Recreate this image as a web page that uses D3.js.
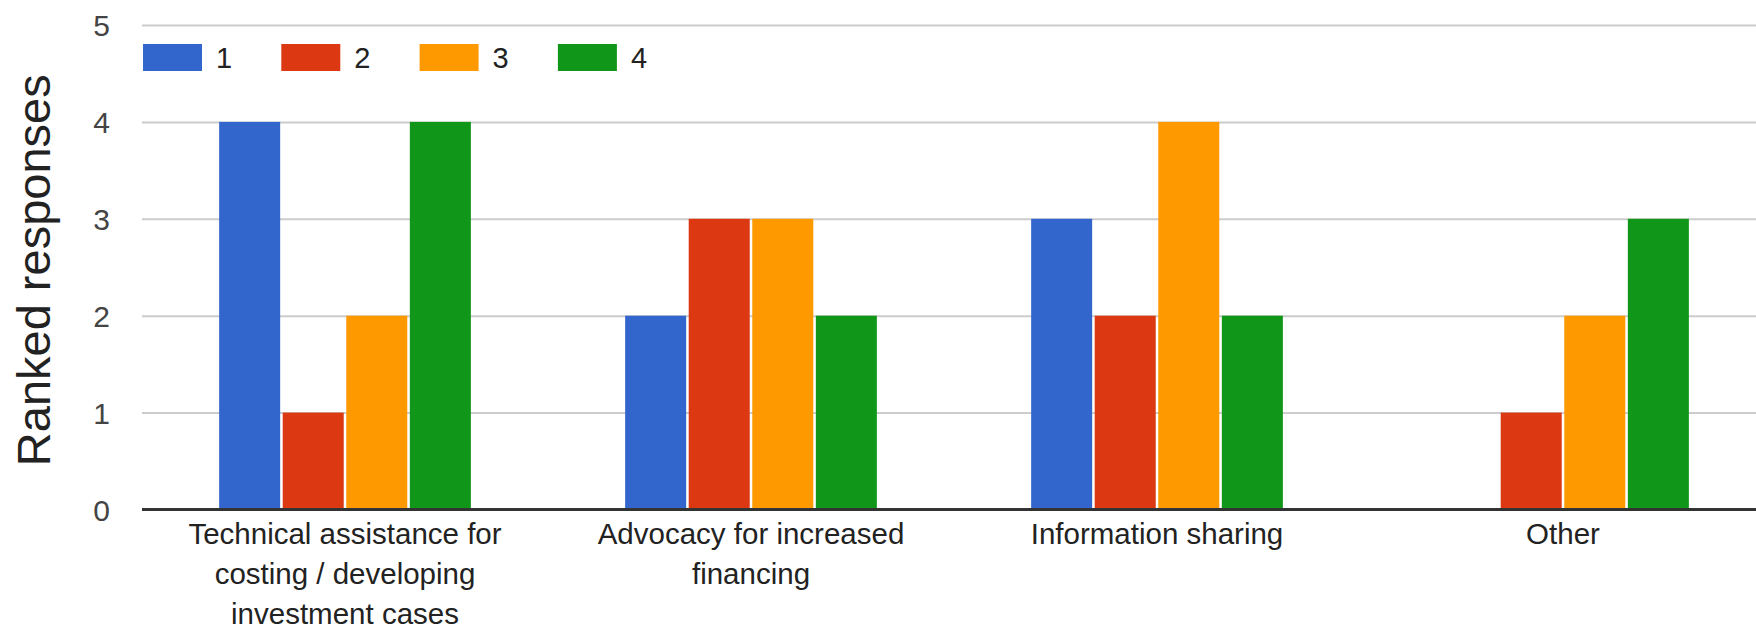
<!DOCTYPE html>
<html>
<head>
<meta charset="utf-8">
<script src="https://cdn.jsdelivr.net/npm/d3@7"></script>
<style>
  html, body { margin: 0; padding: 0; background: #fff; }
  svg { display: block; }
  text { font-family: Arial, "Liberation Sans", sans-serif; }
</style>
</head>
<body>
<svg id="chart" width="1756" height="626"></svg>
<script>
// ---- data ----
const categories = ["Technical assistance", "Advocacy", "Information sharing", "Other"];
const categoryLabelLines = [
  ["Technical assistance for", "costing / developing", "investment cases"],
  ["Advocacy for increased", "financing"],
  ["Information sharing"],
  ["Other"]
];
const seriesNames = ["1", "2", "3", "4"];
const rank1 = [4, 2, 3, 0];
const rank2 = [1, 3, 2, 1];
const rank3 = [2, 3, 4, 2];
const rank4 = [4, 2, 2, 3];
const seriesValues = [rank1, rank2, rank3, rank4];
const seriesColors = ["#3366cc", "#dc3912", "#ff9900", "#109618"];
const yTicks = [0, 1, 2, 3, 4, 5];
const yTitle = "Ranked responses";

// ---- layout ----
const plotLeft = 142, plotRight = 1766, plotTop = 25, plotBottom = 509.5;

const svg = d3.select("#chart");

const x0 = d3.scaleBand().domain(categories).range([plotLeft, plotRight])
  .paddingInner(0.38).paddingOuter(0.19);
const x1 = d3.scaleBand().domain(seriesNames).range([0, x0.bandwidth()])
  .paddingInner(0.04).paddingOuter(0);
const y = d3.scaleLinear().domain([0, 5]).range([plotBottom, plotTop]);

// gridlines + y tick labels via axis
const yAxis = d3.axisLeft(y).tickValues(yTicks).tickSize(-(plotRight - plotLeft)).tickPadding(32).tickFormat(d3.format("d"));
const gy = svg.append("g").attr("transform", `translate(${plotLeft},0)`).call(yAxis);
gy.select(".domain").remove();
gy.selectAll(".tick line").attr("stroke", "#cccccc").attr("stroke-width", 2);
gy.selectAll(".tick text")
  .attr("dy", "0.36em")
  .attr("text-anchor", "end")
  .attr("fill", "#444")
  .style("font-size", "30px");

// bars
const groups = svg.append("g").selectAll("g.grp")
  .data(categories)
  .join("g").attr("class", "grp")
  .attr("transform", d => `translate(${x0(d)},0)`);

groups.selectAll("rect")
  .data((c, ci) => seriesNames.map((s, si) => ({ s, v: seriesValues[si][ci], color: seriesColors[si] })))
  .join("rect")
  .filter(d => d.v > 0)
  .attr("x", d => x1(d.s))
  .attr("y", d => y(d.v))
  .attr("width", x1.bandwidth())
  .attr("height", d => y(0) - y(d.v))
  .attr("fill", d => d.color);

// baseline (x axis)
const xAxis = d3.axisBottom(x0).tickSize(0).tickFormat("");
const gx = svg.append("g").attr("transform", `translate(0,${y(0)})`).call(xAxis);
gx.select(".domain").attr("stroke", "#333").attr("stroke-width", 3)
  .attr("d", `M${plotLeft},0H${plotRight}`);

// category labels
const lab = svg.append("g").selectAll("text")
  .data(categories)
  .join("text")
  .attr("text-anchor", "middle")
  .attr("transform", d => `translate(${x0(d) + x0.bandwidth() / 2},544)`)
  .attr("fill", "#222")
  .style("font-size", "29.5px");
lab.each(function (d, i) {
  d3.select(this).selectAll("tspan")
    .data(categoryLabelLines[i])
    .join("tspan")
    .attr("x", 0)
    .attr("y", (t, k) => k * 40)
    .text(t => t);
});

// legend
const legend = svg.append("g");
const legItem = legend.selectAll("g")
  .data(seriesNames)
  .join("g")
  .attr("transform", (d, i) => `translate(${143 + i * 138.3},44)`);
legItem.append("rect")
  .attr("width", 59).attr("height", 27)
  .attr("fill", (d, i) => seriesColors[i]);
legItem.append("text")
  .attr("x", 73).attr("y", 13.5)
  .attr("dy", "0.36em")
  .attr("fill", "#222")
  .style("font-size", "29px")
  .text(d => d);

// y title
svg.append("text")
  .attr("transform", `translate(50,${(plotTop + plotBottom) / 2 + 3}) rotate(-90)`)
  .attr("text-anchor", "middle")
  .attr("fill", "#222")
  .style("font-size", "47px")
  .text(yTitle);
</script>
</body>
</html>
